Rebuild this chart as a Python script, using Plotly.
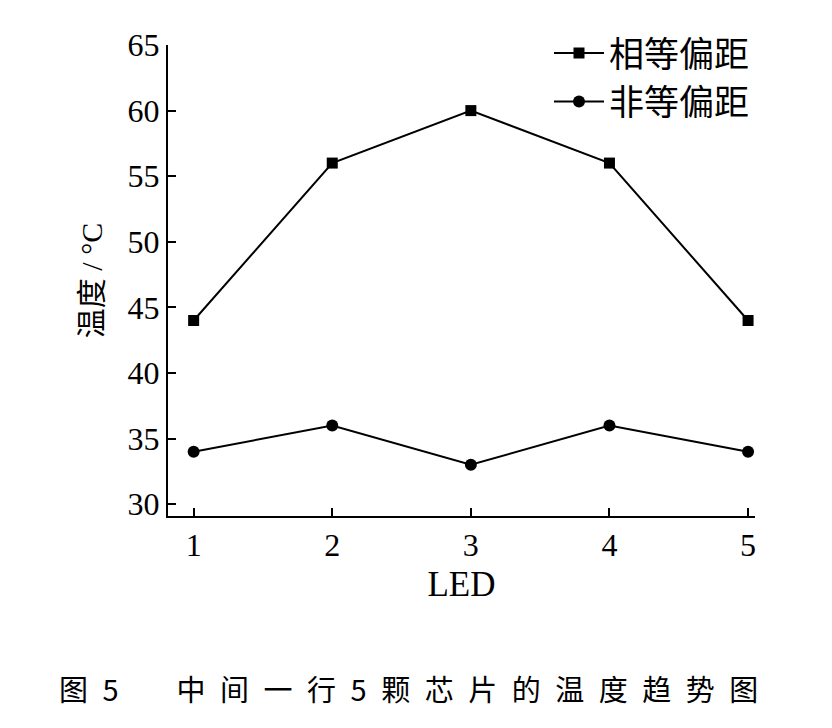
import plotly.graph_objects as go

leds = [1, 2, 3, 4, 5]
equal_offset = [44, 56, 60, 56, 44]
unequal_offset = [34, 36, 33, 36, 34]
y_ticks = [30, 35, 40, 45, 50, 55, 60, 65]

serif = "Liberation Serif, Times New Roman, serif"
cjk = "Noto Sans CJK SC"
mixed = "Liberation Serif, Noto Sans CJK SC"

fig = go.Figure()
fig.add_trace(go.Scatter(x=leds, y=equal_offset, mode="lines+markers", name="相等偏距",
                         line=dict(color="black", width=2),
                         marker=dict(symbol="square", size=11, color="black")))
fig.add_trace(go.Scatter(x=leds, y=unequal_offset, mode="lines+markers", name="非等偏距",
                         line=dict(color="black", width=2),
                         marker=dict(symbol="circle", size=12, color="black")))

fig.update_layout(
    width=832, height=728,
    margin=dict(l=160, r=85, t=37, b=220),
    paper_bgcolor="white", plot_bgcolor="white",
    showlegend=True,
    legend=dict(x=1.0, y=1.045, xanchor="right", yanchor="top",
                font=dict(family=cjk, size=35, color="black"),
                bgcolor="rgba(0,0,0,0)", tracegroupgap=0, itemwidth=50),
    xaxis=dict(range=[0.815, 5.05], tickvals=leds, ticks="inside", ticklen=8,
               tickwidth=1.5, tickcolor="black",
               showline=True, linecolor="black", linewidth=2, showgrid=False, zeroline=False,
               tickfont=dict(family=serif, size=32, color="black"),
               title=dict(text="LED", font=dict(family=serif, size=35, color="black"), standoff=9)),
    yaxis=dict(range=[29.1, 65], tickvals=y_ticks, ticks="inside", ticklen=8,
               tickwidth=1.5, tickcolor="black",
               showline=True, linecolor="black", linewidth=2, showgrid=False, zeroline=False,
               tickfont=dict(family=serif, size=32, color="black"),
               title=dict(text="温度 / °C", font=dict(family=mixed, size=30, color="black"), standoff=16)),
)

fig.add_annotation(text="图\u20025\u2003\u2003中\u2002间\u2002一\u2002行\u20025\u2002颗\u2002芯\u2002片\u2002的\u2002温\u2002度\u2002趋\u2002势\u2002图",
                   xref="paper", yref="paper", x=0.41, y=-0.365, xanchor="center", yanchor="middle",
                   showarrow=False, font=dict(family=cjk, size=29, color="black"))

fig.write_html("out.html")
